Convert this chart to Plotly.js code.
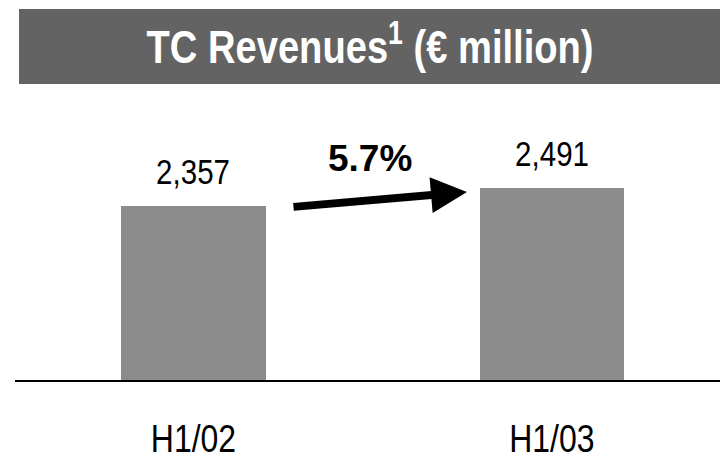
<!DOCTYPE html>
<html>
<head>
<meta charset="utf-8">
<script src="https://cdn.plot.ly/plotly-3.0.1.min.js"></script>
<style>html,body{margin:0;padding:0;background:#fff;}#chart{width:720px;height:459px;}</style>
</head>
<body>
<div id="chart"></div>
<script>
// ---- data ----
const categories = ["H1/02", "H1/03"];
const revenues = [2357, 2491];
const valueLabels = ["2,357", "2,491"];
const growthLabel = "5.7%";
const chartTitle = "TC Revenues<sup>1</sup> (€ million)";

const SANS = "Liberation Sans, Arial, Helvetica, sans-serif";

const trace = {
  type: "bar",
  x: categories,
  y: revenues,
  width: 0.404,
  marker: {color: "#8c8c8c", line: {width: 0}},
  hoverinfo: "skip",
  cliponaxis: false
};

const annotations = categories.map((c, i) => ({
  x: c, y: revenues[i], xref: "x", yref: "y",
  text: valueLabels[i], showarrow: false,
  yanchor: "middle", yshift: 35,
  font: {family: SANS, size: 36, color: "#000"}
}));

annotations.push({
  x: 0.5035, y: 0.791, xref: "paper", yref: "paper",
  text: "<b>" + growthLabel + "</b>", showarrow: false,
  xanchor: "center", yanchor: "middle",
  font: {family: SANS, size: 37, color: "#000"}
});

annotations.push({
  x: 0.6411, y: 0.6714, xref: "paper", yref: "paper",
  text: "", showarrow: true,
  ax: -175, ay: 15,
  arrowhead: 2, arrowsize: 0.9, arrowwidth: 8, arrowcolor: "#000",
  standoff: 0, startstandoff: 0
});

const layout = {
  width: 720, height: 459,
  margin: {l: 15, r: 0, t: 100, b: 79, pad: 0},
  paper_bgcolor: "#fff", plot_bgcolor: "#fff",
  showlegend: false,
  title: {
    text: "<b>" + chartTitle + "</b>",
    x: 0.514, xref: "container", xanchor: "center",
    y: 0.898, yref: "container", yanchor: "middle",
    font: {family: SANS, size: 46.5, color: "#fff"}
  },
  shapes: [{
    type: "rect", xref: "paper", yref: "paper",
    x0: 0.0057, x1: 1, y0: 1.057, y1: 1.325,
    fillcolor: "#636363", line: {width: 0}, layer: "below"
  }],
  xaxis: {
    type: "category",
    range: [-0.498, 1.469],
    showline: true, linecolor: "#000", linewidth: 2,
    ticks: "", showgrid: false, zeroline: false,
    ticklabelstandoff: 23,
    tickfont: {family: SANS, size: 39, color: "#000"},
    automargin: false, fixedrange: true
  },
  yaxis: {
    range: [1062, 3146],
    visible: false, showgrid: false, zeroline: false,
    automargin: false, fixedrange: true
  },
  annotations: annotations,
  bargap: 0
};

// condense a text element horizontally around its own centre (narrow face look)
function condense(el, k) {
  const bb = el.getBBox();
  const cx = bb.x + bb.width / 2;
  const t = el.getAttribute("transform") || "";
  el.setAttribute("transform", t + " translate(" + cx + ",0) scale(" + k + ",1) translate(" + (-cx) + ",0)");
}

Plotly.newPlot("chart", [trace], layout, {staticPlot: true, displayModeBar: false}).then(gd => {
  gd.querySelectorAll(".gtitle").forEach(el => condense(el, 0.82));
  gd.querySelectorAll(".xtick text").forEach(el => condense(el, 0.82));
  gd.querySelectorAll("g.annotation").forEach(g => {
    const idx = +g.getAttribute("data-index");
    if (idx < categories.length) {
      const t = g.querySelector("text.annotation-text");
      if (t) condense(t, 0.82);
    }
  });
});
</script>
</body>
</html>
